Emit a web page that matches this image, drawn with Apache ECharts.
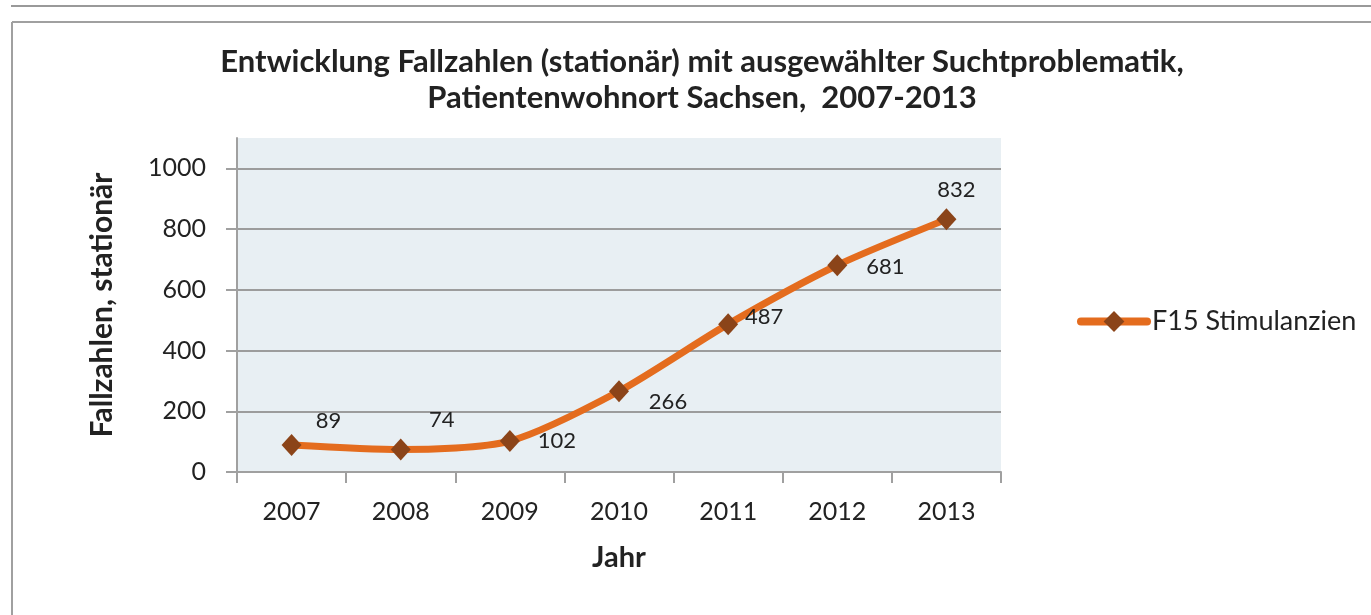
<!DOCTYPE html>
<html>
<head>
<meta charset="utf-8">
<script src="https://cdn.jsdelivr.net/npm/echarts@6/dist/echarts.min.js"></script>
<style>
  html, body { margin: 0; padding: 0; background: #fff; }
  #chart { width: 1371px; height: 615px; }
</style>
</head>
<body>
<div id="chart"></div>
<script>
// data
const years = ['2007', '2008', '2009', '2010', '2011', '2012', '2013'];
const cases = [89, 74, 102, 266, 487, 681, 832];
const yTicks = [0, 200, 400, 600, 800, 1000];
const seriesName = 'F15 Stimulanzien';

// where each value label sits relative to its point (layout only)
const labelOffsets = [[37, -24], [41, -30], [47, 0], [49, 11], [36, -7], [48, 2], [10, -29]];

const font = 'Lato, "Open Sans", sans-serif';
const textColor = '#222222';
const gray = '#a0a0a0';

let chart = echarts.init(document.getElementById('chart'));

let seriesData = cases.map((v, i) => ({
  value: v,
  label: { offset: labelOffsets[i] }
}));

chart.setOption({
  backgroundColor: '#fff',
  animation: false,
  graphic: [
    // page frame
    { type: 'line', shape: { x1: 11, y1: 6, x2: 1371, y2: 6 }, style: { stroke: '#999', lineWidth: 2 } },
    { type: 'line', shape: { x1: 12, y1: 22, x2: 1371, y2: 22 }, style: { stroke: gray, lineWidth: 2 } },
    { type: 'line', shape: { x1: 12, y1: 22, x2: 12, y2: 615 }, style: { stroke: gray, lineWidth: 2 } },
    // title, two centred lines
    { type: 'text', x: 702, y: 62, style: { text: 'Entwicklung Fallzahlen (stationär) mit ausgewählter Suchtproblematik,', font: 'bold 31px ' + font, fill: textColor, align: 'center', verticalAlign: 'middle' } },
    { type: 'text', x: 702, y: 98, style: { text: 'Patientenwohnort Sachsen,  2007-2013', font: 'bold 31px ' + font, fill: textColor, align: 'center', verticalAlign: 'middle' } }
  ],
  grid: { left: 237, right: 370, top: 138, bottom: 143, show: true, backgroundColor: '#e8eff3', borderWidth: 0 },
  legend: {
    left: 1077,
    top: 308,
    padding: 0,
    itemWidth: 66,
    itemHeight: 26,
    itemGap: 2,
    lineStyle: { width: 8, cap: 'round' },
    textStyle: { fontFamily: font, fontSize: 27, color: textColor },
    data: [seriesName]
  },
  xAxis: {
    type: 'category',
    data: years,
    boundaryGap: true,
    name: 'Jahr',
    nameLocation: 'middle',
    nameGap: 71,
    nameTextStyle: { fontFamily: font, fontSize: 29, fontWeight: 'bold', color: textColor },
    axisLine: { lineStyle: { color: gray, width: 2 } },
    axisTick: { show: true, length: 11, lineStyle: { color: gray, width: 2 } },
    axisLabel: { fontFamily: font, fontSize: 25, color: textColor, margin: 27 }
  },
  yAxis: {
    type: 'value',
    min: 0,
    max: 1100,
    interval: 200,
    name: 'Fallzahlen, stationär',
    nameLocation: 'middle',
    nameGap: 120,
    nameTextStyle: { fontFamily: font, fontSize: 30, fontWeight: 'bold', color: textColor },
    axisLine: { show: true, lineStyle: { color: gray, width: 2 } },
    axisTick: { show: true, length: 11, customValues: yTicks, lineStyle: { color: gray, width: 2 } },
    axisLabel: { fontFamily: font, fontSize: 25, color: textColor, margin: 31, customValues: yTicks, formatter: v => String(v) },
    splitLine: { show: true, lineStyle: { color: '#9c9c9c', width: 2 } }
  },
  series: [{
    name: seriesName,
    type: 'line',
    data: seriesData,
    smooth: 0.25,
    symbol: 'diamond',
    symbolSize: [20, 22],
    lineStyle: { color: '#e46c1e', width: 7 },
    itemStyle: { color: '#8b4419' },
    label: {
      show: true,
      position: 'inside',
      fontFamily: font,
      fontSize: 22,
      color: textColor
    }
  }]
});
</script>
</body>
</html>
